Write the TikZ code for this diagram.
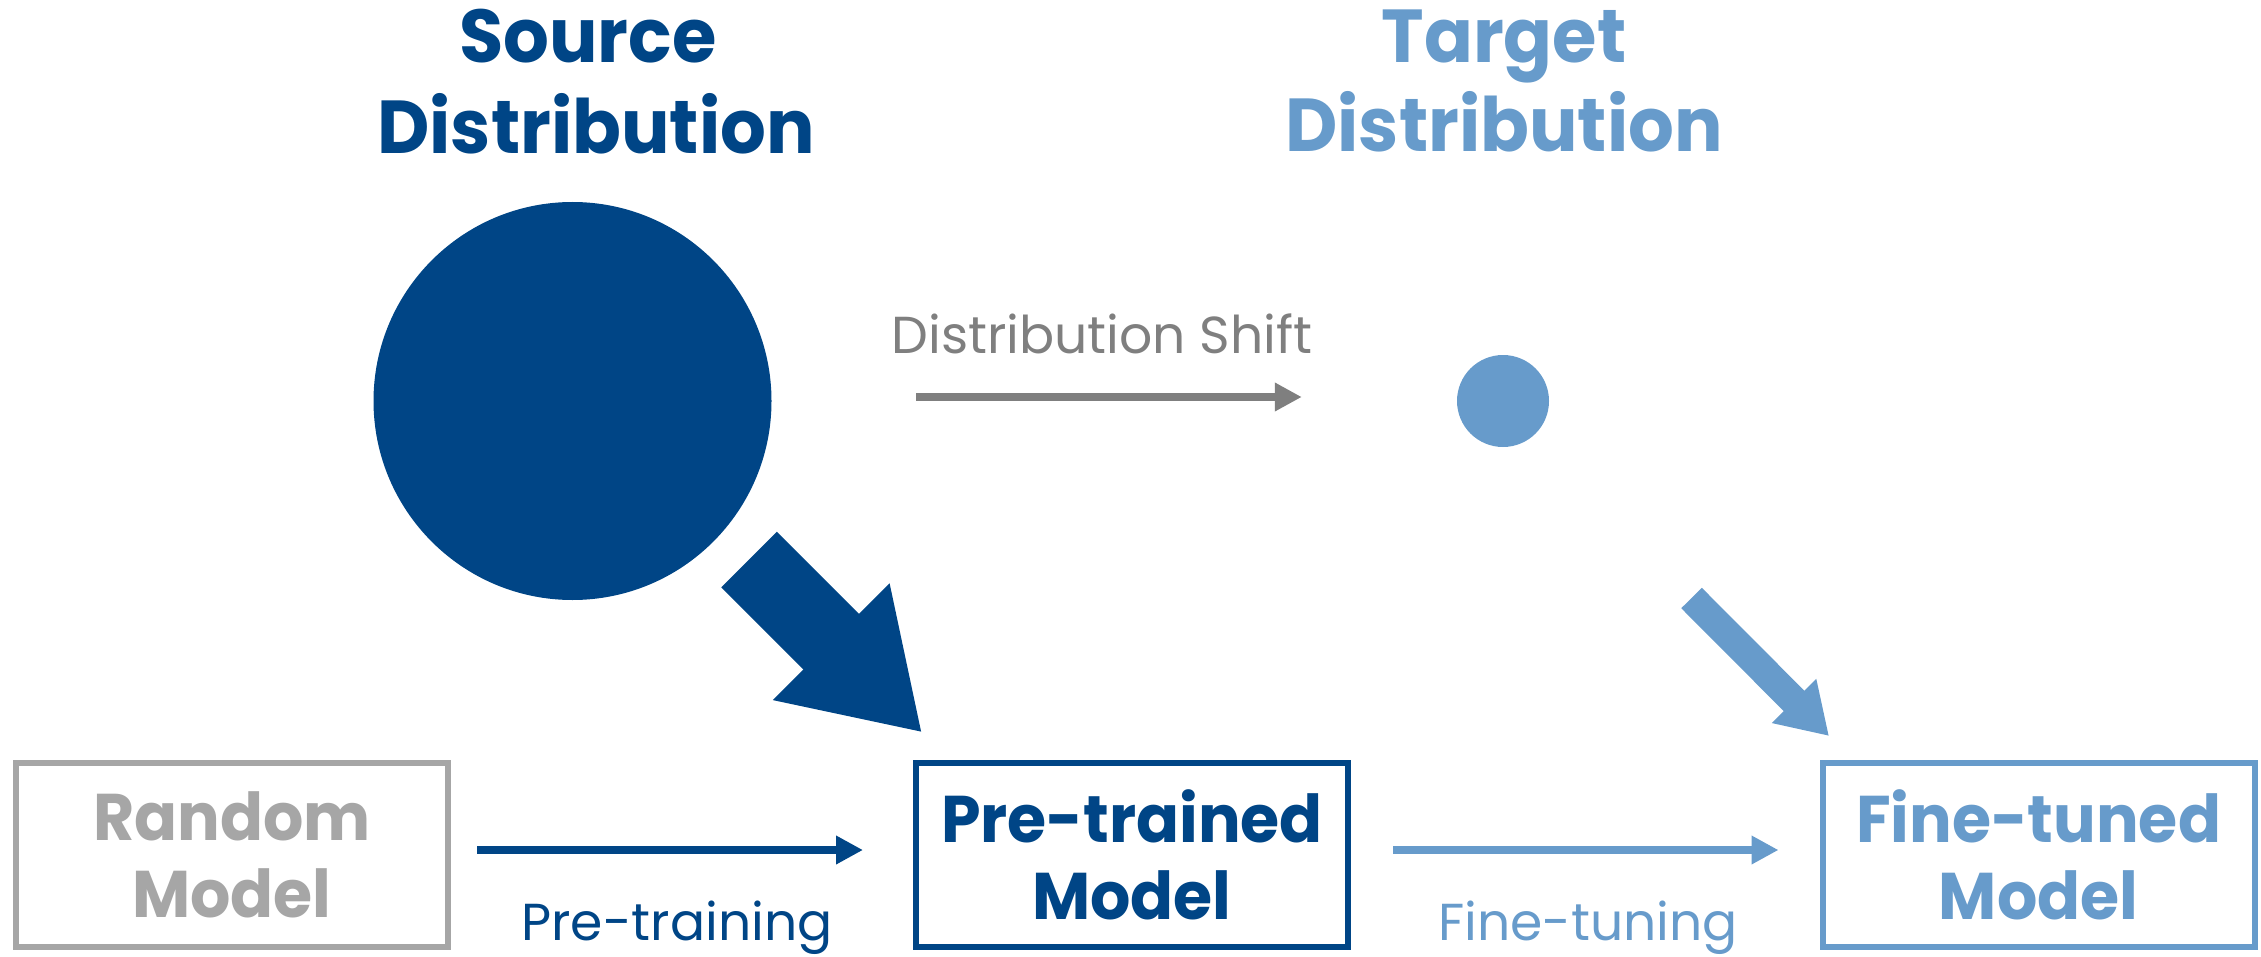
\documentclass[tikz,border=0pt]{standalone}
\usepackage{fontspec}
\setmainfont{Poppins}
\newfontfamily\heavyfont{Poppins}[FakeStretch=0.96]
\usetikzlibrary{arrows.meta,calc}
\definecolor{navy}{RGB}{0,69,134}
\definecolor{sky}{RGB}{103,155,203}
\definecolor{ash}{RGB}{166,166,166}
\definecolor{slate}{RGB}{127,127,127}
\begin{document}
\begin{tikzpicture}[x=1pt,y=-1pt,
  title/.style={font=\heavyfont\fontsize{75}{91}\selectfont\bfseries, anchor=base, inner sep=0pt},
  caption/.style={font=\fontsize{52}{60}\selectfont, anchor=base, inner sep=0pt},
  modelbox/.style={draw, line width=6pt, minimum width=432pt, minimum height=184pt,
    align=center, inner sep=0pt, font=\heavyfont\fontsize{66}{77}\selectfont\bfseries},
  flow/.style={line width=8.5pt, -{Triangle[length=27pt,width=27pt]}},
]
\useasboundingbox (0,0) rectangle (2261,957);

% titles
\node[title, navy] (srcA) at (588,63) {Source};
\node[title, navy] (srcB) at (596,154) {Distribution};
\node[title, sky] (tgtA) at (1504,63) {Target};
\node[title, sky] (tgtB) at (1504,152) {Distribution};

% distributions
\node[circle, fill=navy, minimum size=398pt, inner sep=0pt] (src) at (572.5,401) {};
\node[circle, fill=sky, minimum size=92pt, inner sep=0pt] (tgt) at (1503,401) {};

% models
\node[modelbox, ash, text=ash] (rand) at (232,855) {Random\\Model};
\node[modelbox, navy, text=navy] (pre) at (1132,855) {Pre-trained\\Model};
\node[modelbox, sky, text=sky] (fine) at (2038.5,855) {Fine-tuned\\Model};

% shift between distributions
\draw[flow, slate, shorten <=144.5pt, shorten >=155pt] ([yshift=4pt]src.east) -- ([yshift=4pt]tgt.west);
\node[caption, slate] (shift) at (1102,353) {Distribution Shift};

% training steps
\draw[flow, navy, shorten <=26pt, shorten >=50pt] ([yshift=5pt]rand.east) -- ([yshift=5pt]pre.west);
\node[caption, navy] (ptlab) at (677,940) {Pre-training};
\draw[flow, sky, shorten <=42pt, shorten >=41pt] ([yshift=5pt]pre.east) -- ([yshift=5pt]fine.west);
\node[caption, sky] (ftlab) at (1588,940) {Fine-tuning};

% data flowing into the models
\coordinate (srcTail) at (749,559.5);
\coordinate (srcTip) at (922.2,732.7);
\draw[navy, line width=78.5pt, -{Triangle[length=128.7pt,width=155.6pt]}] (srcTail) -- (srcTip);
\coordinate (tgtTail) at (1691.5,598);
\coordinate (tgtTip) at (1829,736);
\draw[sky, line width=29pt, -{Triangle[length=49.5pt,width=59pt]}] (tgtTail) -- (tgtTip);
\end{tikzpicture}
\end{document}
